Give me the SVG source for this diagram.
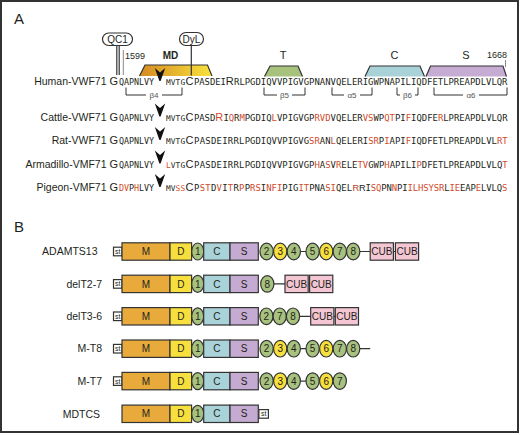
<svg xmlns="http://www.w3.org/2000/svg" xmlns:xlink="http://www.w3.org/1999/xlink" width="520" height="435" viewBox="0 0 520 435">
<style>
text{font-family:"Liberation Sans",Arial,sans-serif;fill:#231f20}
.pan{font-size:15px}
.lbl{font-size:10.5px;text-anchor:end}
.big{font-size:11px}
.s1{font-family:"DejaVu Sans Mono",monospace;font-size:8.4px}
.s2{font-family:"DejaVu Sans Mono",monospace;font-size:7.8px}
.mono{font-family:"DejaVu Sans Mono",monospace;font-size:8.92px}
.bigt{font-family:"Liberation Sans",Arial,sans-serif;font-size:11px}
.bigr{font-family:"Liberation Sans",Arial,sans-serif;font-size:9.2px}
.r{fill:#d24a2c}
.sm{font-size:8px;fill:#555;text-anchor:middle}
.dom{font-size:11px;text-anchor:middle}
.bt{font-size:10px;text-anchor:middle}
.st{font-size:7px;text-anchor:middle}
.bx{stroke:#333;stroke-width:1.2}
.ln{stroke:#333;stroke-width:1.2;fill:none}
.M{fill:#e9aa3c}.D{fill:#f7e03d}.C{fill:#a9d3d9}.S{fill:#c5aad1}.CUB{fill:#f4c6d3}.W{fill:#fff}
.g{fill:#a7c27e}.y{fill:#f7e03d}
</style>
<defs>
<linearGradient id="mdg" x1="0" y1="0" x2="1" y2="0">
<stop offset="0" stop-color="#d68a22"/><stop offset="1" stop-color="#f8e23c"/>
</linearGradient>
<path id="cut" d="M-5.2,-17 L0,-12.5 L5.2,-17 L0.6,-4 L-0.6,-4 Z" fill="#111"/>
</defs>
<rect x="1" y="1" width="517" height="431" fill="#fff" stroke="#333" stroke-width="2"/>
<text class="pan" x="14" y="24">A</text>
<text class="pan" x="14" y="232">B</text>

<g id="annotations">
<path d="M139.5,76 L145,65 L207.5,65 L212,76 Z" fill="url(#mdg)"/>
<path class="ln" d="M139.5,76 L145,65 L207.5,65 L212,76"/>
<path d="M264.5,76.5 L270,66 L298,66 L302.5,76.5 Z" fill="#a7c27c"/>
<path class="ln" d="M264.5,76.5 L270,66 L298,66 L302.5,76.5"/>
<path d="M365,76.5 L370,66 L420,66 L424.5,76.5 Z" fill="#a9d2d8"/>
<path class="ln" d="M365,76.5 L370,66 L420,66 L424.5,76.5"/>
<path d="M426,76.5 L430.5,66 L503,66 L506.5,76.5 Z" fill="#c6abd2"/>
<path class="ln" d="M426,76.5 L430.5,66 L503,66 L506.5,76.5"/>
<rect x="102.5" y="33" width="30" height="12.5" rx="6.2" fill="#fff" class="bx"/>
<text x="117.5" y="43" font-size="10" text-anchor="middle">QC1</text>
<rect x="179.5" y="32.5" width="24" height="13" rx="6.5" fill="#fff" class="bx"/>
<text x="191.5" y="43" font-size="10" text-anchor="middle">DyL</text>
<text x="170.5" y="59" font-size="10" font-weight="bold" text-anchor="middle">MD</text>
<text class="dom" x="283" y="59">T</text>
<text class="dom" x="394.5" y="59">C</text>
<text class="dom" x="466" y="59">S</text>
<text x="497" y="58" font-size="9" text-anchor="middle">1668</text>
<text x="125" y="58.5" font-size="9">1599</text>
</g>

<g id="connectors">
<line class="ln" x1="116.8" y1="45.5" x2="116.8" y2="75"/>
<line class="ln" x1="119.2" y1="45.5" x2="119.2" y2="75"/>
<line x1="123.3" y1="50" x2="123.3" y2="75" stroke="#888" stroke-width="1"/>
<line class="ln" x1="191.3" y1="45.5" x2="191.3" y2="75.5"/>
<line x1="505.5" y1="60" x2="505.5" y2="67" stroke="#888" stroke-width="1"/>
<g stroke="#333" stroke-width="1" fill="none">
<path d="M126,87.5 V95 H146 M162,95 H182 V87.5"/>
<path d="M264,87.5 V95 H277 M292,95 H305 V87.5"/>
<path d="M332,87.5 V95 H344 M360,95 H372 V87.5"/>
<path d="M397,87.5 V95 H400 M415,95 H418 V87.5"/>
<path d="M434,87.5 V95 H463 M479,95 H507 V87.5"/>
</g>
<g class="ln">
<path d="M300.6,251.5 H306 M359.8,251.5 H370.2 M393.4,251.5 H395.4"/>
<path d="M273.9,283.9 H285 M308.2,283.9 H309.6"/>
<path d="M299.6,316.3 H310.7 M333.9,316.3 H335.3"/>
<path d="M300.6,348.7 H306 M359.8,348.7 H370.2"/>
<path d="M300.6,381.1 H306"/>
</g>
</g>
<text class="sm" x="154" y="97.5">β4</text>
<text class="sm" x="284.5" y="97.5">β5</text>
<text class="sm" x="352" y="97.5">α5</text>
<text class="sm" x="407.5" y="97.5">β6</text>
<text class="sm" x="471" y="97.5">α6</text>

<g id="row-human">
<text class="lbl" x="106.5" y="85">Human-VWF71</text>
<text class="big" x="109.5" y="85">G</text>
<text class="s1" x="119 124 129 134 139 144 149" y="85">QAPNLVY</text>
<use xlink:href="#cut" x="160" y="85"/>
<text class="s2" x="166 170.8 175.6 180.4" y="85">MVTG</text>
<text class="big" x="185.5" y="85">C</text>
<text class="mono" y="85"><tspan x="194 199.3 204.6 209.9 215.2 220.5">PASDEI</tspan><tspan class="bigt" x="225.7">R</tspan><tspan x="234 239.4">RL</tspan></text>
<text class="mono" x="244.74" y="85">PGDIQVVPIGVGPNANVQELERIGWPNAPILIQDFETLPREAPDLVLQR</text>
</g>

<g id="row-cattle">
<text class="lbl" x="106.5" y="120.5">Cattle-VWF71</text>
<text class="big" x="109.5" y="120.5">G</text>
<text class="s1" x="119 124 129 134 139 144 149" y="120.5">QAPNLVY</text>
<use xlink:href="#cut" x="160" y="120.5"/>
<text class="s2" x="166 170.8 175.6 180.4" y="120.5">MVTG</text>
<text class="big" x="185.5" y="120.5">C</text>
<text class="mono" y="120.5"><tspan x="194 199.3 204.6 209.9">PASD</tspan><tspan class="bigt r" x="215.2">R</tspan><tspan x="223.4">I</tspan><tspan class="r" x="228.7">Q</tspan><tspan x="234">R</tspan><tspan class="r" x="239.4">M</tspan></text>
<text class="mono" x="244.74" y="120.5">PGDIQ<tspan class="r">L</tspan>VPIGVGP<tspan class="r">RVD</tspan>VQELER<tspan class="r">VS</tspan>WP<tspan class="r">QT</tspan>PI<tspan class="r">F</tspan>IQDFE<tspan class="r">R</tspan>LPREAPDLVLQR</text>
</g>

<g id="row-rat">
<text class="lbl" x="106.5" y="144">Rat-VWF71</text>
<text class="big" x="109.5" y="144">G</text>
<text class="s1" x="119 124 129 134 139 144 149" y="144">QAPNLVY</text>
<use xlink:href="#cut" x="160" y="144"/>
<text class="s2" x="166 170.8 175.6 180.4" y="144">MVTG</text>
<text class="big" x="185.5" y="144">C</text>
<text class="mono" x="194 199.64 205.28 210.92 216.56 222.2 227.84 233.48 239.12" y="144">PASDEIRRL</text>
<text class="mono" x="244.74" y="144">PGDIQVVPIGVG<tspan class="r">SR</tspan>AN<tspan class="r">L</tspan>QELERI<tspan class="r">SR</tspan>P<tspan class="r">I</tspan>API<tspan class="r">F</tspan>IQDFETLPREAPDLVL<tspan class="r">RT</tspan></text>
</g>

<g id="row-armadillo">
<text class="lbl" x="106.5" y="167.5">Armadillo-VMF71</text>
<text class="big" x="109.5" y="167.5">G</text>
<text class="s1" x="119 124 129 134 139 144 149" y="167.5">QAPNLVY</text>
<use xlink:href="#cut" x="160" y="167.5"/>
<text class="s2" y="167.5"><tspan class="r" x="166">L</tspan><tspan x="170.8 175.6 180.4">VTG</tspan></text>
<text class="big" x="185.5" y="167.5">C</text>
<text class="mono" x="194 199.64 205.28 210.92 216.56 222.2 227.84 233.48 239.12" y="167.5">PASDEIRRL</text>
<text class="mono" x="244.74" y="167.5">PGDIQVVPIGVGP<tspan class="r">H</tspan>A<tspan class="r">S</tspan>V<tspan class="r">R</tspan>ELE<tspan class="r">TV</tspan>GWP<tspan class="r">H</tspan>APILI<tspan class="r">P</tspan>DFETLPREAPDLVLQ<tspan class="r">T</tspan></text>
</g>

<g id="row-pigeon">
<text class="lbl" x="106.5" y="191">Pigeon-VMF71</text>
<text class="big" x="109.5" y="191">G</text>
<text class="s1" y="191"><tspan class="r" x="119 124">DV</tspan><tspan x="129">P</tspan><tspan class="r" x="134">H</tspan><tspan x="139 144 149">LVY</tspan></text>
<use xlink:href="#cut" x="160" y="191"/>
<text class="s2" y="191"><tspan x="166 170.8">MV</tspan><tspan class="r" x="175.6 180.4">SS</tspan></text>
<text class="big" x="185.5" y="191">C</text>
<text class="mono" y="191"><tspan x="194">P</tspan><tspan class="r" x="199.64 205.28">ST</tspan><tspan x="210.92">D</tspan><tspan class="r" x="216.56">V</tspan><tspan x="222.2">I</tspan><tspan class="r" x="227.84">T</tspan><tspan x="233.48">R</tspan><tspan class="r" x="239.12">P</tspan></text>
<text class="mono" x="244.74" y="191">P<tspan class="r">RS</tspan>I<tspan class="r">NFI</tspan>PIG<tspan class="r">IT</tspan>PNA<tspan class="r">SI</tspan>QEL<tspan class="bigr" x="352.4" style="fill:#b5402a">R</tspan><tspan class="bigr">R</tspan><tspan x="365.4" style="letter-spacing:-0.11px">I<tspan class="r">SQ</tspan>PN<tspan class="r">N</tspan>PI<tspan class="r">ILHSYSR</tspan>L<tspan class="r">IE</tspan>EAP<tspan class="r">E</tspan>LVLQ<tspan class="r">S</tspan></tspan></text>
</g>

<g id="ADAMTS13">
<text class="lbl" x="97.5" y="255.2">ADAMTS13</text>
<rect class="bx W" x="113.5" y="247.2" width="8.5" height="8.6"/><text class="st" x="117.75" y="253.9">st</text>
<rect class="bx M" x="122" y="242.8" width="48" height="17.4"/><text class="bt" x="146" y="255.1">M</text>
<rect class="bx D" x="170" y="242.8" width="21.6" height="17.4"/><text class="bt" x="180.8" y="255.1">D</text>
<ellipse class="bx g" cx="197.7" cy="251.5" rx="6" ry="8.5"/><text class="bt" x="197.7" y="255.1">1</text>
<rect class="bx C" x="203.7" y="242.8" width="26.3" height="17.4"/><text class="bt" x="216.85" y="255.1">C</text>
<rect class="bx S" x="230" y="242.8" width="28.3" height="17.4"/><text class="bt" x="244.15" y="255.1">S</text>
<ellipse class="bx g" cx="266.6" cy="251.5" rx="6.6" ry="8.3"/><text class="bt" x="266.6" y="255.1">2</text>
<ellipse class="bx y" cx="280.2" cy="251.5" rx="6.6" ry="8.3"/><text class="bt" x="280.2" y="255.1">3</text>
<ellipse class="bx g" cx="293.8" cy="251.5" rx="6.6" ry="8.3"/><text class="bt" x="293.8" y="255.1">4</text>
<ellipse class="bx g" cx="312.6" cy="251.5" rx="6.6" ry="8.3"/><text class="bt" x="312.6" y="255.1">5</text>
<ellipse class="bx y" cx="326.2" cy="251.5" rx="6.6" ry="8.3"/><text class="bt" x="326.2" y="255.1">6</text>
<ellipse class="bx g" cx="339.8" cy="251.5" rx="6.6" ry="8.3"/><text class="bt" x="339.8" y="255.1">7</text>
<ellipse class="bx g" cx="353.2" cy="251.5" rx="6.6" ry="8.3"/><text class="bt" x="353.2" y="255.1">8</text>
<rect class="bx CUB" x="370.2" y="242.8" width="23.2" height="17.4"/><text class="bt" x="381.8" y="255.1">CUB</text>
<rect class="bx CUB" x="395.4" y="242.8" width="23.2" height="17.4"/><text class="bt" x="407" y="255.1">CUB</text>
</g>

<g id="delT2-7">
<text class="lbl" x="102" y="287.6">delT2-7</text>
<rect class="bx W" x="113.5" y="279.6" width="8.5" height="8.6"/><text class="st" x="117.75" y="286.3">st</text>
<rect class="bx M" x="122" y="275.2" width="48" height="17.4"/><text class="bt" x="146" y="287.5">M</text>
<rect class="bx D" x="170" y="275.2" width="21.6" height="17.4"/><text class="bt" x="180.8" y="287.5">D</text>
<ellipse class="bx g" cx="197.7" cy="283.9" rx="6" ry="8.5"/><text class="bt" x="197.7" y="287.5">1</text>
<rect class="bx C" x="203.7" y="275.2" width="26.3" height="17.4"/><text class="bt" x="216.85" y="287.5">C</text>
<rect class="bx S" x="230" y="275.2" width="28.3" height="17.4"/><text class="bt" x="244.15" y="287.5">S</text>
<ellipse class="bx g" cx="267.3" cy="283.9" rx="6.6" ry="8.3"/><text class="bt" x="267.3" y="287.5">8</text>
<rect class="bx CUB" x="285" y="275.2" width="23.2" height="17.4"/><text class="bt" x="296.6" y="287.5">CUB</text>
<rect class="bx CUB" x="309.6" y="275.2" width="23.2" height="17.4"/><text class="bt" x="321.2" y="287.5">CUB</text>
</g>

<g id="delT3-6">
<text class="lbl" x="102" y="320">delT3-6</text>
<rect class="bx W" x="113.5" y="312" width="8.5" height="8.6"/><text class="st" x="117.75" y="318.7">st</text>
<rect class="bx M" x="122" y="307.6" width="48" height="17.4"/><text class="bt" x="146" y="319.9">M</text>
<rect class="bx D" x="170" y="307.6" width="21.6" height="17.4"/><text class="bt" x="180.8" y="319.9">D</text>
<ellipse class="bx g" cx="197.7" cy="316.3" rx="6" ry="8.5"/><text class="bt" x="197.7" y="319.9">1</text>
<rect class="bx C" x="203.7" y="307.6" width="26.3" height="17.4"/><text class="bt" x="216.85" y="319.9">C</text>
<rect class="bx S" x="230" y="307.6" width="28.3" height="17.4"/><text class="bt" x="244.15" y="319.9">S</text>
<ellipse class="bx g" cx="266.4" cy="316.3" rx="6.6" ry="8.3"/><text class="bt" x="266.4" y="319.9">2</text>
<ellipse class="bx g" cx="279.7" cy="316.3" rx="6.6" ry="8.3"/><text class="bt" x="279.7" y="319.9">7</text>
<ellipse class="bx g" cx="293" cy="316.3" rx="6.6" ry="8.3"/><text class="bt" x="293" y="319.9">8</text>
<rect class="bx CUB" x="310.7" y="307.6" width="23.2" height="17.4"/><text class="bt" x="322.3" y="319.9">CUB</text>
<rect class="bx CUB" x="335.3" y="307.6" width="23.2" height="17.4"/><text class="bt" x="346.9" y="319.9">CUB</text>
</g>

<g id="M-T8">
<text class="lbl" x="102" y="352.4">M-T8</text>
<rect class="bx W" x="113.5" y="344.4" width="8.5" height="8.6"/><text class="st" x="117.75" y="351.1">st</text>
<rect class="bx M" x="122" y="340" width="48" height="17.4"/><text class="bt" x="146" y="352.3">M</text>
<rect class="bx D" x="170" y="340" width="21.6" height="17.4"/><text class="bt" x="180.8" y="352.3">D</text>
<ellipse class="bx g" cx="197.7" cy="348.7" rx="6" ry="8.5"/><text class="bt" x="197.7" y="352.3">1</text>
<rect class="bx C" x="203.7" y="340" width="26.3" height="17.4"/><text class="bt" x="216.85" y="352.3">C</text>
<rect class="bx S" x="230" y="340" width="28.3" height="17.4"/><text class="bt" x="244.15" y="352.3">S</text>
<ellipse class="bx g" cx="266.6" cy="348.7" rx="6.6" ry="8.3"/><text class="bt" x="266.6" y="352.3">2</text>
<ellipse class="bx y" cx="280.2" cy="348.7" rx="6.6" ry="8.3"/><text class="bt" x="280.2" y="352.3">3</text>
<ellipse class="bx g" cx="293.8" cy="348.7" rx="6.6" ry="8.3"/><text class="bt" x="293.8" y="352.3">4</text>
<ellipse class="bx g" cx="312.6" cy="348.7" rx="6.6" ry="8.3"/><text class="bt" x="312.6" y="352.3">5</text>
<ellipse class="bx y" cx="326.2" cy="348.7" rx="6.6" ry="8.3"/><text class="bt" x="326.2" y="352.3">6</text>
<ellipse class="bx g" cx="339.8" cy="348.7" rx="6.6" ry="8.3"/><text class="bt" x="339.8" y="352.3">7</text>
<ellipse class="bx g" cx="353.2" cy="348.7" rx="6.6" ry="8.3"/><text class="bt" x="353.2" y="352.3">8</text>
</g>

<g id="M-T7">
<text class="lbl" x="102" y="384.8">M-T7</text>
<rect class="bx W" x="113.5" y="376.8" width="8.5" height="8.6"/><text class="st" x="117.75" y="383.5">st</text>
<rect class="bx M" x="122" y="372.4" width="48" height="17.4"/><text class="bt" x="146" y="384.7">M</text>
<rect class="bx D" x="170" y="372.4" width="21.6" height="17.4"/><text class="bt" x="180.8" y="384.7">D</text>
<ellipse class="bx g" cx="197.7" cy="381.1" rx="6" ry="8.5"/><text class="bt" x="197.7" y="384.7">1</text>
<rect class="bx C" x="203.7" y="372.4" width="26.3" height="17.4"/><text class="bt" x="216.85" y="384.7">C</text>
<rect class="bx S" x="230" y="372.4" width="28.3" height="17.4"/><text class="bt" x="244.15" y="384.7">S</text>
<ellipse class="bx g" cx="266.6" cy="381.1" rx="6.6" ry="8.3"/><text class="bt" x="266.6" y="384.7">2</text>
<ellipse class="bx y" cx="280.2" cy="381.1" rx="6.6" ry="8.3"/><text class="bt" x="280.2" y="384.7">3</text>
<ellipse class="bx g" cx="293.8" cy="381.1" rx="6.6" ry="8.3"/><text class="bt" x="293.8" y="384.7">4</text>
<ellipse class="bx g" cx="312.6" cy="381.1" rx="6.6" ry="8.3"/><text class="bt" x="312.6" y="384.7">5</text>
<ellipse class="bx y" cx="326.2" cy="381.1" rx="6.6" ry="8.3"/><text class="bt" x="326.2" y="384.7">6</text>
<ellipse class="bx g" cx="339.8" cy="381.1" rx="6.6" ry="8.3"/><text class="bt" x="339.8" y="384.7">7</text>
</g>

<g id="MDTCS">
<text class="lbl" x="100" y="417.5">MDTCS</text>
<rect class="bx M" x="122" y="405.1" width="48" height="17.4"/><text class="bt" x="146" y="417.4">M</text>
<rect class="bx D" x="170" y="405.1" width="21.6" height="17.4"/><text class="bt" x="180.8" y="417.4">D</text>
<ellipse class="bx g" cx="197.7" cy="413.8" rx="6" ry="8.5"/><text class="bt" x="197.7" y="417.4">1</text>
<rect class="bx C" x="203.7" y="405.1" width="26.3" height="17.4"/><text class="bt" x="216.85" y="417.4">C</text>
<rect class="bx S" x="230" y="405.1" width="28.3" height="17.4"/><text class="bt" x="244.15" y="417.4">S</text>
<rect class="bx W" x="258.9" y="409.6" width="9.5" height="8.6"/><text class="st" x="263.65" y="416.3">st</text>
</g>
</svg>
